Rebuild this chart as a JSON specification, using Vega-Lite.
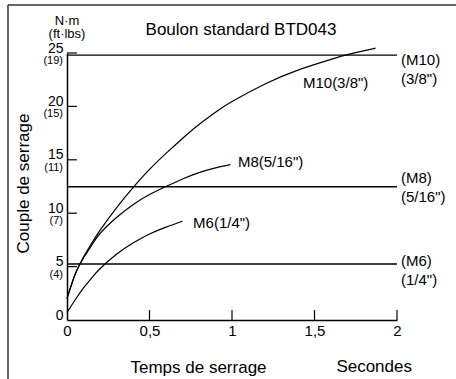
{
  "$schema": "https://vega.github.io/schema/vega-lite/v6.json",
  "width": 330,
  "height": 267,
  "autosize": "none",
  "padding": {"left": 67, "top": 53, "right": 59, "bottom": 59},
  "background": "white",
  "config": {"view": {"stroke": null}, "font": "Liberation Sans"},
  "datasets": {
    "curves": [
      {"bolt": "M10", "t": 0, "v": 2.0}, {"bolt": "M10", "t": 0.05, "v": 4.3}, {"bolt": "M10", "t": 0.1, "v": 5.9}, {"bolt": "M10", "t": 0.15, "v": 7.2}, {"bolt": "M10", "t": 0.2, "v": 8.4}, {"bolt": "M10", "t": 0.3, "v": 10.5}, {"bolt": "M10", "t": 0.4, "v": 12.4}, {"bolt": "M10", "t": 0.5, "v": 14.1}, {"bolt": "M10", "t": 0.6, "v": 15.6}, {"bolt": "M10", "t": 0.7, "v": 17.0}, {"bolt": "M10", "t": 0.8, "v": 18.3}, {"bolt": "M10", "t": 0.9, "v": 19.45}, {"bolt": "M10", "t": 1.0, "v": 20.45}, {"bolt": "M10", "t": 1.2, "v": 22.1}, {"bolt": "M10", "t": 1.4, "v": 23.4}, {"bolt": "M10", "t": 1.6, "v": 24.4}, {"bolt": "M10", "t": 1.7, "v": 24.85}, {"bolt": "M10", "t": 1.87, "v": 25.45},
      {"bolt": "M8", "t": 0, "v": 2.0}, {"bolt": "M8", "t": 0.05, "v": 4.3}, {"bolt": "M8", "t": 0.1, "v": 5.8}, {"bolt": "M8", "t": 0.15, "v": 7.0}, {"bolt": "M8", "t": 0.2, "v": 8.1}, {"bolt": "M8", "t": 0.3, "v": 9.6}, {"bolt": "M8", "t": 0.4, "v": 10.8}, {"bolt": "M8", "t": 0.5, "v": 11.75}, {"bolt": "M8", "t": 0.6, "v": 12.5}, {"bolt": "M8", "t": 0.7, "v": 13.2}, {"bolt": "M8", "t": 0.8, "v": 13.8}, {"bolt": "M8", "t": 0.9, "v": 14.25}, {"bolt": "M8", "t": 0.99, "v": 14.55},
      {"bolt": "M6", "t": 0, "v": 0.7}, {"bolt": "M6", "t": 0.05, "v": 1.9}, {"bolt": "M6", "t": 0.1, "v": 3.0}, {"bolt": "M6", "t": 0.15, "v": 3.95}, {"bolt": "M6", "t": 0.2, "v": 4.8}, {"bolt": "M6", "t": 0.3, "v": 6.15}, {"bolt": "M6", "t": 0.4, "v": 7.2}, {"bolt": "M6", "t": 0.5, "v": 8.05}, {"bolt": "M6", "t": 0.6, "v": 8.7}, {"bolt": "M6", "t": 0.7, "v": 9.25}
    ],
    "refs": [
      {"bolt": "M10", "v": 24.8, "ly": 24.34, "lab": ["(M10)", "(3/8\")"]},
      {"bolt": "M8", "v": 12.48, "ly": 13.3, "lab": ["(M8)", "(5/16\")"]},
      {"bolt": "M6", "v": 5.25, "ly": 5.52, "lab": ["(M6)", "(1/4\")"]}
    ],
    "curveLabels": [
      {"t": 1.43, "v": 22.2, "name": "M10(3/8\")"},
      {"t": 1.036, "v": 14.8, "name": "M8(5/16\")"},
      {"t": 0.764, "v": 9.08, "name": "M6(1/4\")"}
    ],
    "ftlbs": [
      {"v": 25, "p": "(19)"}, {"v": 20, "p": "(15)"}, {"v": 15, "p": "(11)"}, {"v": 10, "p": "(7)"}, {"v": 5, "p": "(4)"}
    ],
    "xticks": [{"t": 0.5}, {"t": 1}, {"t": 1.5}, {"t": 2}]
  },
  "layer": [
    {
      "data": {"name": "curves"},
      "mark": {"type": "line", "color": "black", "strokeWidth": 1.2, "interpolate": "natural"},
      "encoding": {
        "x": {"field": "t", "type": "quantitative", "scale": {"domain": [0, 2], "nice": false},
          "axis": {"values": [0, 0.5, 1, 1.5, 2], "title": "Temps de serrage", "titleFontSize": 17, "titleFontWeight": "normal", "titleX": 131, "titleY": 47, "titleBaseline": "middle", "titleAlign": "center", "titleColor": "black",
            "ticks": false, "tickSize": 0, "labelPadding": 3, "labelFontSize": 15, "labelColor": "black", "labelExpr": "replace(format(datum.value, '~g'), '.', ',')", "labelFlush": false,
            "domainColor": "black", "domainWidth": 1.5, "grid": false}},
        "y": {"field": "v", "type": "quantitative", "scale": {"domain": [0, 25], "nice": false},
          "axis": {"values": [0, 5, 10, 15, 20, 25], "title": "Couple de serrage", "titleFontSize": 17, "titleFontWeight": "normal", "titleAngle": -90, "titleX": -44, "titleY": 130, "titleBaseline": "middle", "titleAlign": "center", "titleColor": "black",
            "ticks": false, "tickSize": 0, "labelPadding": 4, "labelOffset": -5, "labelFontSize": 14, "labelColor": "black", "labelFlush": false,
            "domainColor": "black", "domainWidth": 1.5, "grid": false}},
        "detail": {"field": "bolt"}
      }
    },
    {
      "data": {"name": "xticks"},
      "mark": {"type": "rule", "color": "black", "strokeWidth": 1.2},
      "encoding": {
        "x": {"field": "t", "type": "quantitative"},
        "y": {"datum": 0, "type": "quantitative"},
        "y2": {"datum": 0.94}
      }
    },
    {
      "data": {"name": "ftlbs"},
      "mark": {"type": "rule", "color": "black", "strokeWidth": 1.2},
      "encoding": {
        "y": {"field": "v", "type": "quantitative"},
        "x": {"datum": 0, "type": "quantitative"},
        "x2": {"datum": 0.06}
      }
    },
    {
      "data": {"name": "refs"},
      "mark": {"type": "rule", "color": "black", "strokeWidth": 1.4},
      "encoding": {
        "y": {"field": "v", "type": "quantitative"},
        "x": {"datum": 0, "type": "quantitative"},
        "x2": {"datum": 2}
      }
    },
    {
      "data": {"name": "refs"},
      "mark": {"type": "text", "align": "left", "baseline": "middle", "dx": 4, "fontSize": 15, "lineHeight": 19, "color": "black"},
      "encoding": {
        "y": {"field": "ly", "type": "quantitative"},
        "x": {"datum": 2, "type": "quantitative"},
        "text": {"field": "lab"}
      }
    },
    {
      "data": {"name": "curveLabels"},
      "mark": {"type": "text", "align": "left", "baseline": "middle", "fontSize": 15, "color": "black"},
      "encoding": {
        "x": {"field": "t", "type": "quantitative"},
        "y": {"field": "v", "type": "quantitative"},
        "text": {"field": "name"}
      }
    },
    {
      "data": {"name": "ftlbs"},
      "mark": {"type": "text", "align": "right", "baseline": "middle", "dx": -4, "dy": 8, "fontSize": 11, "color": "black"},
      "encoding": {
        "x": {"datum": 0, "type": "quantitative"},
        "y": {"field": "v", "type": "quantitative"},
        "text": {"field": "p"}
      }
    },
    {
      "data": {"values": [{}]},
      "mark": {"type": "text", "align": "center", "baseline": "middle", "dy": -32, "fontSize": 13, "lineHeight": 13, "color": "black"},
      "encoding": {
        "x": {"datum": 0, "type": "quantitative"},
        "y": {"datum": 25, "type": "quantitative"},
        "text": {"value": ["N·m", "(ft·lbs)"]}
      }
    },
    {
      "data": {"values": [{}]},
      "mark": {"type": "text", "align": "center", "baseline": "middle", "dx": 9, "dy": -23, "fontSize": 17, "color": "black"},
      "encoding": {
        "x": {"datum": 1, "type": "quantitative"},
        "y": {"datum": 25, "type": "quantitative"},
        "text": {"value": "Boulon standard BTD043"}
      }
    },
    {
      "data": {"values": [{}]},
      "mark": {"type": "text", "align": "right", "baseline": "middle", "dx": 15, "dy": 47, "fontSize": 17, "color": "black"},
      "encoding": {
        "x": {"datum": 2, "type": "quantitative"},
        "y": {"datum": 0, "type": "quantitative"},
        "text": {"value": "Secondes"}
      }
    },
    {
      "data": {"values": [{}]},
      "mark": {"type": "rule", "color": "#333333", "strokeWidth": 1.5},
      "encoding": {
        "x": {"datum": -0.3576, "type": "quantitative"},
        "y": {"datum": 29.49, "type": "quantitative"},
        "y2": {"datum": -6}
      }
    },
    {
      "data": {"values": [{}]},
      "mark": {"type": "rule", "color": "#333333", "strokeWidth": 1.5},
      "encoding": {
        "x": {"datum": -0.3576, "type": "quantitative"},
        "x2": {"datum": 2.4},
        "y": {"datum": 29.49, "type": "quantitative"}
      }
    }
  ]
}
